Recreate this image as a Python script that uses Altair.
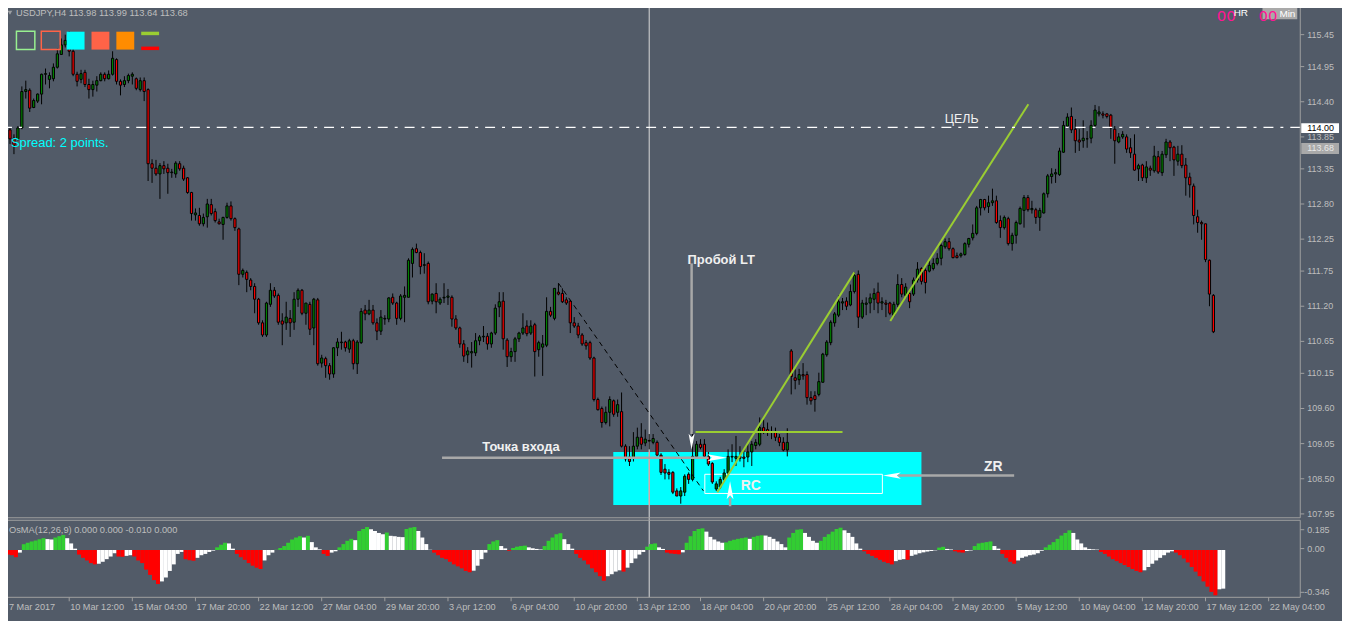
import altair as alt
import pandas as pd

# ---------------- data (USDJPY, H4) ----------------
opens = [113.96, 113.83, 113.82, 113.99, 114.56, 114.58, 114.31, 114.41, 114.52, 114.83,
         114.75, 114.76, 114.94, 115.14, 115.29, 115.33, 115.19, 114.83, 114.75, 114.86,
         114.67, 114.59, 114.66, 114.73, 114.83, 114.76, 114.83, 115.06, 114.72, 114.67,
         114.73, 114.80, 114.76, 114.59, 114.73, 114.59, 113.43, 113.36, 113.27, 113.40,
         113.36, 113.29, 113.27, 113.43, 113.36, 113.21, 112.98, 112.63, 112.62, 112.49,
         112.60, 112.79, 112.68, 112.52, 112.48, 112.59, 112.77, 112.57, 112.41, 111.70,
         111.73, 111.61, 111.51, 111.31, 110.94, 110.75, 111.23, 111.45, 111.37, 110.97,
         110.94, 111.01, 110.95, 111.31, 111.45, 111.09, 111.23, 110.86, 111.30, 110.31,
         110.38, 110.27, 110.14, 110.55, 110.63, 110.64, 110.53, 110.66, 110.30, 110.63,
         111.14, 111.08, 111.14, 110.94, 110.81, 111.00, 111.00, 111.34, 111.25, 111.01,
         111.34, 111.34, 111.87, 112.10, 112.04, 111.84, 111.87, 111.28, 111.40, 111.25,
         111.33, 111.34, 111.34, 111.00, 110.86, 110.61, 110.44, 110.47, 110.47, 110.66,
         110.72, 110.73, 110.61, 110.78, 111.19, 111.28, 110.67, 110.41, 110.49, 110.69,
         110.78, 110.89, 110.78, 110.91, 110.52, 110.56, 110.59, 111.12, 111.01, 111.42,
         111.40, 111.30, 111.28, 110.94, 110.89, 110.75, 110.63, 110.63, 110.39, 109.74,
         109.60, 109.38, 109.54, 109.72, 109.54, 109.55, 109.01, 108.84, 108.82, 109.01,
         109.15, 109.06, 109.10, 109.07, 109.07, 108.87, 108.65, 108.60, 108.60, 108.31,
         108.23, 108.29, 108.57, 108.49, 108.85, 109.04, 109.04, 108.85, 108.74, 108.34,
         108.37, 108.49, 108.59, 108.84, 108.82, 108.85, 108.84, 108.84, 108.92, 109.02,
         109.04, 109.30, 109.27, 109.24, 109.23, 109.15, 109.07, 108.95, 110.50, 110.08,
         110.05, 110.13, 110.13, 109.77, 109.80, 109.82, 110.01, 110.44, 110.63, 110.94,
         111.06, 111.25, 111.28, 111.22, 111.43, 111.70, 111.03, 111.23, 111.25, 111.31,
         111.42, 111.25, 111.25, 111.25, 111.06, 111.23, 111.54, 111.37, 111.40, 111.39,
         111.61, 111.79, 111.76, 111.75, 111.79, 111.87, 111.95, 112.13, 112.21, 112.10,
         111.99, 111.99, 112.01, 112.17, 112.27, 112.34, 112.74, 112.87, 112.76, 112.82,
         112.85, 112.54, 112.43, 112.57, 112.18, 112.31, 112.49, 112.70, 112.90, 112.71,
         112.71, 112.59, 112.66, 112.96, 113.23, 113.27, 113.26, 113.61, 114.02, 114.17,
         113.97, 113.80, 113.79, 113.82, 113.83, 114.03, 114.21, 114.21, 114.21, 114.19,
         113.97, 113.77, 113.85, 113.85, 113.68, 113.58, 113.35, 113.41, 113.21, 113.36,
         113.32, 113.54, 113.29, 113.57, 113.77, 113.69, 113.47, 113.58, 113.41, 113.22,
         113.08, 112.60, 112.51, 112.49, 111.92, 111.37]

highs = [113.99, 113.89, 114.02, 114.64, 114.73, 114.61, 114.45, 114.53, 114.84, 114.92,
         114.86, 115.00, 115.23, 115.39, 115.45, 115.50, 115.23, 114.87, 114.90, 114.90,
         114.76, 114.73, 114.80, 114.86, 114.86, 114.89, 115.19, 115.08, 114.75, 114.80,
         114.84, 114.86, 114.78, 114.78, 114.78, 114.61, 113.50, 113.49, 113.44, 113.47,
         113.43, 113.35, 113.47, 113.47, 113.40, 113.22, 112.99, 112.73, 112.74, 112.65,
         112.88, 112.88, 112.73, 112.57, 112.60, 112.82, 112.84, 112.59, 112.43, 111.79,
         111.76, 111.64, 111.56, 111.33, 110.98, 111.27, 111.56, 111.50, 111.40, 111.09,
         111.27, 111.14, 111.42, 111.48, 111.47, 111.25, 111.27, 111.33, 111.33, 110.44,
         110.41, 110.31, 110.56, 110.70, 110.80, 110.66, 110.69, 110.69, 110.67, 111.17,
         111.22, 111.30, 111.22, 111.01, 111.14, 111.06, 111.34, 111.40, 111.27, 111.39,
         111.51, 111.95, 112.12, 112.18, 112.07, 112.03, 111.90, 111.40, 111.56, 111.34,
         111.56, 111.47, 111.37, 111.06, 110.88, 110.67, 110.56, 110.64, 110.78, 110.75,
         110.89, 110.78, 110.80, 111.23, 111.42, 111.42, 110.70, 110.55, 110.72, 110.80,
         111.09, 110.98, 110.98, 110.94, 110.66, 110.75, 111.34, 111.19, 111.48, 111.56,
         111.48, 111.34, 111.30, 111.03, 110.94, 110.78, 110.67, 110.66, 110.41, 109.77,
         109.63, 109.63, 109.79, 109.74, 109.74, 109.85, 109.04, 109.01, 109.23, 109.30,
         109.37, 109.27, 109.20, 109.20, 109.10, 108.90, 108.73, 108.65, 108.62, 108.35,
         108.37, 108.57, 108.60, 109.23, 109.09, 109.12, 109.12, 108.92, 108.76, 108.46,
         108.53, 108.65, 108.96, 109.04, 109.17, 109.01, 108.96, 109.04, 109.09, 109.12,
         109.46, 109.43, 109.38, 109.32, 109.30, 109.20, 109.15, 109.29, 110.53, 110.21,
         110.22, 110.31, 110.18, 109.87, 109.87, 110.16, 110.47, 110.67, 110.98, 111.11,
         111.37, 111.33, 111.34, 111.54, 111.73, 111.76, 111.30, 111.34, 111.40, 111.48,
         111.57, 111.34, 111.30, 111.27, 111.27, 111.70, 111.64, 111.56, 111.45, 111.65,
         111.89, 111.81, 111.79, 111.92, 111.95, 112.03, 112.18, 112.26, 112.27, 112.12,
         112.04, 112.04, 112.20, 112.27, 112.48, 112.77, 112.88, 112.88, 112.93, 113.04,
         112.93, 112.62, 112.62, 112.60, 112.35, 112.54, 112.76, 112.94, 112.94, 112.85,
         112.74, 112.74, 112.98, 113.27, 113.36, 113.35, 113.68, 114.10, 114.22, 114.31,
         114.13, 113.97, 114.11, 113.94, 114.11, 114.35, 114.33, 114.25, 114.22, 114.21,
         114.02, 113.91, 113.94, 113.89, 113.83, 113.89, 113.43, 113.43, 113.47, 113.40,
         113.71, 113.63, 113.63, 113.82, 113.80, 113.71, 113.71, 113.72, 113.52, 113.29,
         113.12, 112.71, 112.54, 112.49, 111.93, 111.39]

lows = [113.74, 113.58, 113.79, 113.97, 114.45, 114.24, 114.30, 114.38, 114.36, 114.67,
        114.61, 114.72, 114.92, 115.14, 115.25, 115.11, 114.80, 114.64, 114.69, 114.63,
        114.45, 114.48, 114.56, 114.72, 114.72, 114.75, 114.81, 114.67, 114.50, 114.63,
        114.69, 114.67, 114.58, 114.56, 114.41, 113.16, 113.13, 113.24, 112.88, 113.27,
        112.96, 113.21, 113.21, 113.32, 113.16, 112.96, 112.54, 112.54, 112.46, 112.45,
        112.43, 112.62, 112.51, 112.48, 112.24, 112.57, 112.54, 112.38, 111.53, 111.65,
        111.42, 111.45, 111.09, 110.91, 110.72, 110.72, 111.19, 111.33, 110.91, 110.59,
        110.83, 110.72, 110.83, 111.19, 111.06, 110.91, 110.75, 110.59, 110.27, 110.24,
        110.08, 110.05, 110.08, 110.42, 110.52, 110.49, 110.47, 110.21, 110.14, 110.61,
        110.98, 111.06, 110.91, 110.67, 110.75, 110.91, 110.95, 111.22, 110.91, 110.98,
        110.95, 111.34, 111.65, 112.03, 111.70, 111.71, 111.23, 111.23, 111.09, 111.22,
        111.25, 111.22, 110.88, 110.83, 110.55, 110.33, 110.31, 110.24, 110.42, 110.59,
        110.64, 110.52, 110.55, 110.75, 111.03, 110.52, 110.25, 110.33, 110.33, 110.64,
        110.75, 110.73, 110.75, 110.10, 110.41, 110.11, 110.56, 111.03, 110.98, 111.37,
        111.25, 111.22, 110.78, 110.86, 110.70, 110.58, 110.52, 110.36, 109.71, 109.57,
        109.30, 109.35, 109.32, 109.47, 109.47, 108.99, 108.77, 108.70, 108.77, 108.96,
        108.96, 109.01, 108.96, 109.04, 108.85, 108.56, 108.49, 108.49, 108.26, 108.23,
        108.11, 108.23, 108.42, 108.46, 108.84, 108.96, 108.84, 108.70, 108.42, 108.31,
        108.34, 108.45, 108.57, 108.76, 108.70, 108.77, 108.68, 108.76, 108.70, 108.96,
        109.01, 109.20, 109.17, 109.12, 109.09, 109.01, 108.93, 108.85, 109.82, 109.90,
        109.97, 110.05, 109.66, 109.66, 109.55, 109.79, 110.01, 110.41, 110.59, 110.88,
        111.03, 111.14, 111.14, 111.20, 111.40, 110.86, 111.00, 111.06, 111.09, 111.14,
        111.09, 111.14, 111.03, 111.06, 111.03, 111.19, 111.34, 111.33, 111.17, 111.36,
        111.57, 111.54, 111.40, 111.73, 111.76, 111.84, 111.84, 112.10, 112.07, 111.95,
        111.95, 111.96, 111.99, 112.12, 112.23, 112.31, 112.62, 112.70, 112.66, 112.77,
        112.49, 112.27, 112.40, 112.15, 112.07, 112.18, 112.48, 112.43, 112.68, 112.65,
        112.49, 112.38, 112.65, 112.90, 113.12, 113.13, 113.24, 113.60, 113.99, 113.91,
        113.60, 113.63, 113.68, 113.68, 113.75, 114.00, 114.17, 114.14, 114.14, 113.82,
        113.43, 113.75, 113.82, 113.60, 113.52, 113.32, 113.16, 113.16, 113.13, 113.24,
        113.29, 113.27, 113.24, 113.52, 113.47, 113.24, 113.40, 113.36, 112.93, 112.90,
        112.48, 112.35, 112.24, 111.89, 111.20, 110.78]

closes = [113.82, 113.72, 113.99, 114.56, 114.59, 114.30, 114.42, 114.52, 114.83, 114.84,
          114.81, 114.94, 115.15, 115.29, 115.36, 115.19, 114.83, 114.72, 114.84, 114.67,
          114.59, 114.67, 114.73, 114.83, 114.76, 114.83, 115.08, 114.72, 114.66, 114.73,
          114.81, 114.83, 114.61, 114.73, 114.56, 113.43, 113.36, 113.27, 113.40, 113.35,
          113.29, 113.30, 113.44, 113.35, 113.19, 112.98, 112.65, 112.66, 112.49, 112.59,
          112.80, 112.65, 112.54, 112.49, 112.59, 112.77, 112.57, 112.43, 111.70, 111.76,
          111.62, 111.51, 111.31, 110.94, 110.75, 111.25, 111.45, 111.36, 110.95, 110.92,
          111.03, 110.94, 111.31, 111.45, 111.09, 111.25, 110.84, 111.31, 110.30, 110.39,
          110.27, 110.14, 110.55, 110.64, 110.64, 110.55, 110.66, 110.30, 110.64, 111.12,
          111.08, 111.14, 110.94, 110.81, 111.03, 111.01, 111.33, 111.25, 111.01, 111.36,
          111.37, 111.92, 112.09, 112.04, 111.82, 111.85, 111.27, 111.39, 111.27, 111.31,
          111.34, 111.36, 111.00, 110.86, 110.61, 110.42, 110.50, 110.49, 110.66, 110.72,
          110.73, 110.61, 110.78, 111.17, 111.27, 110.69, 110.41, 110.49, 110.69, 110.78,
          110.86, 110.77, 110.89, 110.49, 110.63, 110.61, 111.12, 111.06, 111.48, 111.39,
          111.27, 111.25, 110.94, 110.89, 110.75, 110.61, 110.58, 110.39, 109.74, 109.58,
          109.38, 109.54, 109.74, 109.51, 109.66, 109.01, 108.81, 108.77, 109.01, 109.15,
          109.04, 109.12, 109.09, 109.13, 108.87, 108.60, 108.59, 108.57, 108.29, 108.23,
          108.31, 108.54, 108.49, 108.85, 109.04, 108.99, 108.85, 108.73, 108.45, 108.42,
          108.49, 108.59, 108.85, 108.85, 108.85, 108.82, 108.82, 108.92, 109.04, 109.07,
          109.30, 109.24, 109.23, 109.23, 109.15, 109.07, 108.95, 109.07, 110.10, 110.04,
          110.13, 110.11, 109.77, 109.72, 109.74, 110.02, 110.45, 110.64, 110.95, 111.08,
          111.27, 111.27, 111.20, 111.43, 111.68, 111.03, 111.25, 111.25, 111.33, 111.40,
          111.25, 111.27, 111.23, 111.09, 111.23, 111.54, 111.39, 111.50, 111.27, 111.61,
          111.78, 111.59, 111.57, 111.84, 111.87, 111.95, 112.15, 112.21, 112.10, 111.96,
          111.96, 112.02, 112.18, 112.26, 112.34, 112.74, 112.87, 112.74, 112.82, 112.85,
          112.51, 112.43, 112.59, 112.18, 112.31, 112.51, 112.73, 112.90, 112.71, 112.73,
          112.59, 112.70, 112.96, 113.24, 113.27, 113.29, 113.63, 114.03, 114.16, 113.96,
          113.79, 113.77, 113.83, 113.82, 114.03, 114.27, 114.24, 114.19, 114.17, 113.99,
          113.79, 113.85, 113.89, 113.66, 113.60, 113.33, 113.40, 113.21, 113.38, 113.33,
          113.55, 113.30, 113.58, 113.77, 113.68, 113.49, 113.58, 113.40, 113.21, 113.10,
          112.62, 112.51, 112.49, 111.93, 111.39, 110.80]

# OsMA(12,26,9) histogram, one value per bar
osma = [-0.035, -0.04, -0.055, -0.02, 0.044, 0.055, 0.065, 0.072, 0.082, 0.09,
        0.083, 0.08, 0.095, 0.105, 0.115, 0.09, 0.05, 0.01, -0.035, -0.06,
        -0.08, -0.1, -0.11, -0.105, -0.09, -0.07, -0.05, -0.025, -0.05, -0.052,
        -0.045, -0.04, -0.05, -0.08, -0.1, -0.15, -0.19, -0.23, -0.26, -0.24,
        -0.21, -0.16, -0.11, -0.03, -0.015, -0.07, -0.078, -0.082, -0.06, -0.04,
        -0.03, -0.015, -0.005, 0.02, 0.04, 0.055, 0.05, 0.01, -0.03, -0.055,
        -0.075, -0.1, -0.12, -0.135, -0.145, -0.08, -0.04, -0.02, 0.002, 0.015,
        0.03, 0.055, 0.08, 0.095, 0.105, 0.095, 0.108, 0.06, 0.02, 0.005,
        -0.03, -0.045, -0.02, -0.01, 0.02, 0.045, 0.07, 0.085, 0.075, 0.145,
        0.16, 0.175, 0.158, 0.145, 0.13, 0.12, 0.133, 0.108, 0.105, 0.1,
        0.098, 0.16, 0.17, 0.175, 0.145, 0.095, 0.045, 0.002, -0.02, -0.04,
        -0.06, -0.07, -0.09, -0.11, -0.125, -0.14, -0.16, -0.17, -0.158, -0.12,
        -0.07, -0.02, 0.045, 0.065, 0.075, 0.03, 0.012, -0.006, 0.015, 0.025,
        0.03, 0.033, 0.02, 0.013, 0.008, 0.004, 0.03, 0.07, 0.095, 0.12,
        0.128, 0.082, 0.045, 0.01, -0.03, -0.06, -0.08, -0.11, -0.14, -0.17,
        -0.2, -0.235, -0.2, -0.185, -0.165, -0.155, -0.165, -0.135, -0.1, -0.065,
        -0.035, -0.015, 0.025, 0.045, 0.05, 0.02, 0.008, -0.02, -0.027, -0.03,
        -0.033, -0.018, 0.055, 0.105, 0.145, 0.16, 0.165, 0.14, 0.1, 0.08,
        0.065, 0.055, 0.058, 0.07, 0.078, 0.085, 0.09, 0.095, 0.085, 0.1,
        0.108, 0.112, 0.11, 0.1, 0.085, 0.065, 0.045, 0.02, 0.095, 0.13,
        0.155, 0.158, 0.13, 0.1, 0.07, 0.055, 0.07, 0.1, 0.12, 0.14,
        0.16, 0.17, 0.15, 0.13, 0.1, 0.05, 0.01, -0.01, -0.03, -0.045,
        -0.06, -0.075, -0.09, -0.1, -0.11, -0.085, -0.075, -0.07, -0.075, -0.045,
        -0.035, -0.025, -0.018, -0.012, -0.008, -0.003, 0.018, 0.024, 0.008, 0.004,
        -0.01, -0.018, -0.02, -0.008, -0.004, 0.03, 0.05, 0.055, 0.06, 0.065,
        0.03, 0.01, -0.03, -0.06, -0.09, -0.105, -0.08, -0.06, -0.05, -0.04,
        -0.035, -0.025, -0.006, 0.02, 0.04, 0.06, 0.085, 0.11, 0.13, 0.15,
        0.13, 0.08, 0.05, 0.02, 0.008, 0.005, 0.003, -0.015, -0.03, -0.05,
        -0.07, -0.085, -0.1, -0.115, -0.13, -0.145, -0.16, -0.17, -0.155, -0.13,
        -0.105, -0.08, -0.06, -0.04, -0.02, -0.01, -0.02, -0.04, -0.065, -0.095,
        -0.13, -0.165, -0.2, -0.24, -0.28, -0.32, -0.346, -0.30, -0.295]

time_labels = ["7 Mar 2017", "10 Mar 12:00", "15 Mar 04:00", "17 Mar 20:00", "22 Mar 12:00",
               "27 Mar 04:00", "29 Mar 20:00", "3 Apr 12:00", "6 Apr 04:00", "10 Apr 20:00",
               "13 Apr 12:00", "18 Apr 04:00", "20 Apr 20:00", "25 Apr 12:00", "28 Apr 04:00",
               "2 May 20:00", "5 May 12:00", "10 May 04:00", "12 May 20:00", "17 May 12:00",
               "22 May 04:00"]
time_label_bars = [-1, 15, 31, 47, 63, 79, 95, 111, 127, 143, 159, 175, 191, 207, 223,
                   239, 255, 271, 287, 303, 319]

price_ticks = [115.45, 114.95, 114.40, 113.85, 113.35, 112.80, 112.25, 111.75, 111.20,
               110.65, 110.15, 109.60, 109.05, 108.50, 107.95]

# annotation objects (bar index, price)
zone_cyan = {"x1": [152.9], "x2": [231.0], "p1": [108.92], "p2": [108.09]}
zone_rc = {"x1": [176.1], "x2": [221.1], "p1": [108.57], "p2": [108.27]}
trend_dash = {"x1": [139.0], "p1": [111.56], "x2": [175.75], "p2": [108.31]}
green_lines = {"x1": [173.75, 179.25, 223.1], "p1": [109.23, 108.29, 110.97],
               "x2": [211.0, 214.0, 258.1], "p2": [109.23, 111.73, 114.36]}
target_level = 114.00
pointer_lines = {"x1": [172.75, 109.5, 182.5, 225.0], "p1": [111.87, 108.83, 108.20, 108.55],
                 "x2": [172.75, 177.0, 182.5, 254.5], "p2": [109.20, 108.83, 108.07, 108.55]}
labels_bold = {"x": [180.25, 129.5, 187.75, 249.2], "p": [111.92, 109.00, 108.39, 108.68],
               "t": ["Пробой LT", "Точка входа", "RC", "ZR"], "s": [13, 13, 14, 14]}
cursor_bar = 162.0

# ---------------- styling / layout ----------------
BG = "#525B68"
LINE = "#A0A0A0"
TXT = "#BEBEBE"
FONT = "Liberation Sans"
O = 8  # page margin: chart origin sits at page (8, 8)

XS = alt.Scale(domain=[0.75, 325.75], nice=False, zero=False)          # width 1300
PS = alt.Scale(domain=[107.905, 115.963], range=[518 - O, 0 - O], nice=False, zero=False)
OS = alt.Scale(domain=[-0.346, 0.185], range=[597 - O, 527 - O], nice=False, zero=False)


def xq(f):
    return alt.X(f + ":Q", scale=XS, axis=None)


def yp(f):
    return alt.Y(f + ":Q", scale=PS, axis=None)


ONE = pd.DataFrame({"k": [0]})


def V(v):
    return alt.value(v - O)


def px_rule(x1, x2, y1, y2, color, width=1.0):
    return alt.Chart(ONE).mark_rule(color=color, strokeWidth=width).encode(
        x=V(x1), x2=V(x2), y=V(y1), y2=V(y2))


def px_rect(x1, x2, y1, y2, **props):
    return alt.Chart(ONE).mark_rect(**props).encode(x=V(x1), x2=V(x2), y=V(y1), y2=V(y2))


def px_text(txt, x, y, **props):
    base = dict(font=FONT, baseline="middle", align="left")
    base.update(props)
    return alt.Chart(pd.DataFrame({"t": [txt]})).mark_text(**base).encode(
        x=V(x), y=V(y), text="t:N")


layers = []

# cyan zone
layers.append(alt.Chart(pd.DataFrame(zone_cyan)).mark_rect(color="#00FFFF").encode(
    x=xq("x1"), x2="x2", y=yp("p1"), y2="p2"))

# crosshair
cur = pd.DataFrame({"x": [cursor_bar], "p1": zone_cyan["p1"], "p2": zone_cyan["p2"]})
layers.append(alt.Chart(cur).mark_rule(color="#DADADA", strokeWidth=1).encode(
    x=xq("x"), y=V(3), y2=V(599)))
layers.append(alt.Chart(cur).mark_rule(color="#F08A8A", strokeWidth=1).encode(
    x=xq("x"), y=yp("p1"), y2="p2"))

# RC rectangle
layers.append(alt.Chart(pd.DataFrame(zone_rc)).mark_rect(
    fillOpacity=0, stroke="#FFFFFF", strokeWidth=1).encode(
    x=xq("x1"), x2="x2", y=yp("p1"), y2="p2"))

# candles
n = min(len(opens), len(highs), len(lows), len(closes))
cdf = pd.DataFrame({"i": list(range(n)), "o": opens[:n], "h": highs[:n],
                    "l": lows[:n], "c": closes[:n]})
layers.append(alt.Chart(cdf).mark_rule(color="#000000", strokeWidth=1).encode(
    x=xq("i"), y=yp("l"), y2="h"))
layers.append(alt.Chart(cdf[cdf["c"] >= cdf["o"]]).mark_bar(
    width=2.2, color="#008000", stroke="#000000", strokeWidth=1).encode(
    x=xq("i"), y=yp("o"), y2="c"))
layers.append(alt.Chart(cdf[cdf["c"] < cdf["o"]]).mark_bar(
    width=2.2, color="#FF0000", stroke="#000000", strokeWidth=1).encode(
    x=xq("i"), y=yp("o"), y2="c"))

# trend lines
layers.append(alt.Chart(pd.DataFrame(trend_dash)).mark_rule(
    color="#000000", strokeWidth=1, strokeDash=[5, 4]).encode(
    x=xq("x1"), x2="x2", y=yp("p1"), y2="p2"))
layers.append(alt.Chart(pd.DataFrame(green_lines)).mark_rule(
    color="#9ACD32", strokeWidth=2).encode(
    x=xq("x1"), x2="x2", y=yp("p1"), y2="p2"))

# target level (dash-dot)
layers.append(alt.Chart(pd.DataFrame({"p": [target_level]})).mark_rule(
    color="#FFFFFF", strokeWidth=1.3, strokeDash=[10, 7, 3, 7]).encode(y=yp("p")))
layers.append(alt.Chart(pd.DataFrame({"x": [241.2], "p": [114.13], "t": ["ЦЕЛЬ"]})).mark_text(
    font=FONT, fontSize=12.5, color="#F2F2F2").encode(x=xq("x"), y=yp("p"), text="t:N"))

# pointers
layers.append(alt.Chart(pd.DataFrame(pointer_lines)).mark_rule(
    color="#A8A8A8", strokeWidth=2.5).encode(
    x=xq("x1"), x2="x2", y=yp("p1"), y2="p2"))
arrows = [
    (172.75, 109.08, "M 0 1 L -0.38 -1 L 0 -0.55 L 0.38 -1 Z", 256),
    (179.25, 108.83, "M 1 0 L -1 -0.35 L -0.55 0 L -1 0.35 Z", 400),
    (182.5, 108.32, "M 0 -1 L -0.38 1 L 0 0.55 L 0.38 1 Z", 324),
    (223.5, 108.55, "M -1 0 L 1 -0.35 L 0.55 0 L 1 0.35 Z", 324),
]
for ax, ap, shp, sz in arrows:
    layers.append(alt.Chart(pd.DataFrame({"x": [ax], "p": [ap]})).mark_point(
        shape=shp, size=sz, filled=True, fill="#FFFFFF", opacity=1, strokeWidth=0).encode(
        x=xq("x"), y=yp("p")))

lb = pd.DataFrame(labels_bold)
for s in sorted(set(labels_bold["s"])):
    layers.append(alt.Chart(lb[lb["s"] == s]).mark_text(
        font=FONT, fontSize=s, fontWeight="bold", color="#F0F0F0").encode(
        x=xq("x"), y=yp("p"), text="t:N"))

# OsMA histogram
cols = []
prev = 0.0
for v in osma:
    if v >= 0:
        cols.append("g" if v >= prev else "w")
    else:
        cols.append("r" if v <= prev else "w")
    prev = v
odf = pd.DataFrame({"j": list(range(len(osma))), "v": osma, "z": 0.0, "col": cols})
for key, colr in [("g", "#32CD32"), ("w", "#FFFFFF"), ("r", "#FF0000")]:
    layers.append(alt.Chart(odf[odf["col"] == key]).mark_bar(
        width=4, xOffset=-2, color=colr).encode(
        x=xq("j"), y=alt.Y("v:Q", scale=OS, axis=None), y2="z"))

# frame lines
BOT = 599
layers += [
    px_rule(0, 1308, 2, 2, LINE),
    px_rule(1308, 1308, 2, 519, LINE),
    px_rule(0, 1308, 519, 519, LINE),
    px_rule(0, 1308, 521.5, 521.5, LINE),
    px_rule(1308, 1308, 521.5, BOT, LINE),
    px_rule(0, 1308, BOT, BOT, LINE),
]

# price axis
pdf = pd.DataFrame({"p": price_ticks, "lab": ["%.2f" % p for p in price_ticks]})
layers.append(alt.Chart(pdf).mark_rule(color=LINE, strokeWidth=1).encode(
    x=V(1308), x2=V(1312), y=yp("p")))
layers.append(alt.Chart(pdf).mark_text(font=FONT, fontSize=9, color=TXT, align="left",
                                       baseline="middle").encode(
    x=V(1315), y=yp("p"), text="lab:N"))
layers += [
    px_rect(1309, 1347, 122, 132, color="#FFFFFF"),
    px_text("114.00", 1315, 127, fontSize=9, color="#000000"),
    px_rect(1309, 1347, 142, 153, color="#A9A9A9"),
    px_text("113.68", 1315, 147.5, fontSize=9, color="#E8E8E8"),
]

# OsMA axis labels
layers += [
    px_rule(1308, 1312, 531, 531, LINE),
    px_rule(1308, 1312, 550, 550, LINE),
    px_rule(1308, 1312, 594, 594, LINE),
    px_text("0.185", 1315, 531, fontSize=9, color=TXT),
    px_text("0.00", 1315, 550, fontSize=9, color=TXT),
    px_text("-0.346", 1312, 594, fontSize=9, color=TXT),
    px_text("OsMA(12,26,9) 0.000 0.000 -0.010 0.000", 9, 531, fontSize=9.3, color=TXT),
]

# time axis
tdf = pd.DataFrame({"t": time_label_bars, "lab": time_labels})
layers.append(alt.Chart(tdf).mark_rule(color=LINE, strokeWidth=1).encode(
    x=xq("t"), y=V(BOT), y2=V(BOT + 4)))
layers.append(alt.Chart(tdf[tdf["t"] >= 0]).mark_text(
    font=FONT, fontSize=9.2, color=TXT, align="left", baseline="middle", dx=1).encode(
    x=xq("t"), y=V(609), text="lab:N"))
layers.append(px_text(time_labels[0], 9, 609, fontSize=9.2, color=TXT))

# header / info
layers += [
    alt.Chart(ONE).mark_point(shape="triangle-down", size=22, filled=True, fill=TXT,
                              strokeWidth=0).encode(x=V(10), y=V(11)),
    px_text("USDJPY,H4  113.98 113.99 113.64 113.68", 16, 11.5, fontSize=9.4, color=TXT),
    px_text("Spread: 2 points.", 11, 142, fontSize=13, color="#00FFFF"),
    # legend swatches
    px_rect(16.5, 35, 29.5, 48, fillOpacity=0, stroke="#98F090", strokeWidth=1.5),
    px_rect(41.5, 60.5, 29.5, 48, fillOpacity=0, stroke="#FF6347", strokeWidth=1.5),
    px_rect(67, 85, 30, 48, color="#00FFFF"),
    px_rect(92, 110, 30, 48, color="#FF6347"),
    px_rect(117, 135, 30, 48, color="#FF8C00"),
    px_rect(142, 160, 30, 33.5, color="#9ACD32"),
    px_rect(142, 160, 45, 48.5, color="#FF0000"),
    # timer block
    px_rect(1270, 1305, 6, 17.5, color="#A9A9A9"),
    px_text("00", 1224, 14, fontSize=15, color="#FF1493", font="DejaVu Sans"),
    px_text("HR", 1241, 11.5, fontSize=10, color="#FFFFFF"),
    px_text("00", 1266, 14, fontSize=15, color="#FF1493", font="DejaVu Sans"),
    px_text("Min", 1287, 12, fontSize=10, color="#FFFFFF"),
]

chart = alt.layer(*layers).resolve_scale(y="independent").properties(
    width=1300, height=591,
    padding={"left": 0, "top": 0, "right": 42, "bottom": 22},
    autosize=alt.AutoSizeParams(type="none"),
    background=BG,
).configure_view(strokeWidth=0, fill=BG)

chart.save("out.html", embed_options={"renderer": "svg", "actions": False})
